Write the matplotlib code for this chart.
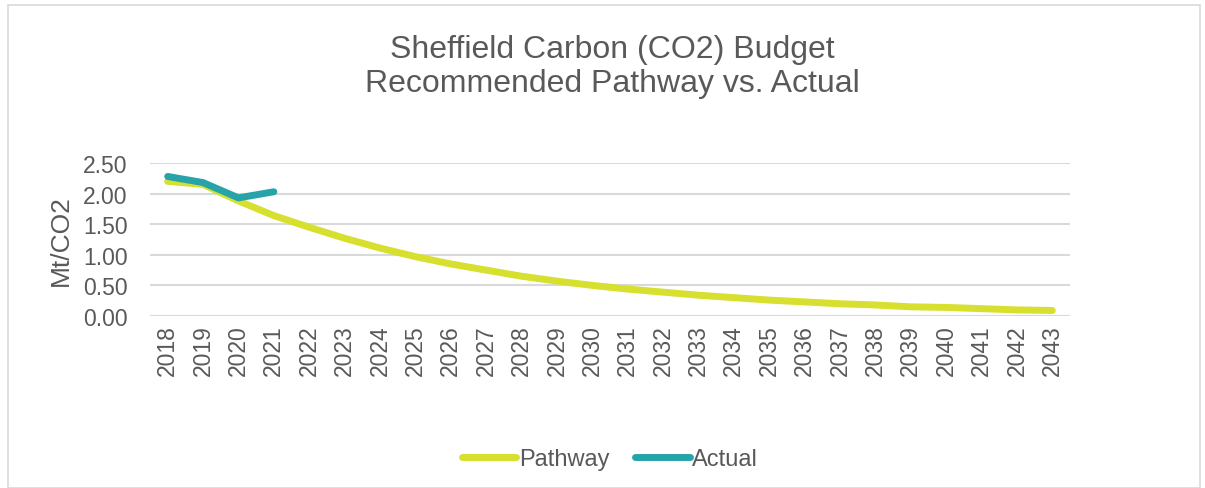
import numpy as np
import matplotlib.pyplot as plt
from matplotlib.patches import Rectangle

years = [str(y) for y in range(2018, 2044)]
pathway = [2.20, 2.15, 1.88, 1.64, 1.45, 1.27, 1.11, 0.97, 0.85, 0.75, 0.65, 0.57, 0.50,
           0.44, 0.39, 0.34, 0.30, 0.26, 0.23, 0.20, 0.18, 0.15, 0.14, 0.12, 0.10, 0.09]
actual = [2.28, 2.18, 1.93, 2.03]

txt = '#595959'
plt.rcParams['font.family'] = ['Liberation Sans', 'DejaVu Sans']

fig = plt.figure(figsize=(12.05, 4.89), dpi=100)
ax = fig.add_axes([150 / 1205, 1 - 317 / 489, 920 / 1205, 153 / 489])

x = np.arange(len(years))
ax.plot(x, pathway, color='#D7DF2F', lw=5, solid_capstyle='round', label='Pathway')
ax.plot(x[:len(actual)], actual, color='#26A4AA', lw=5, solid_capstyle='round', label='Actual')

ax.set_xlim(-0.5, len(years) - 0.5)
ax.set_ylim(0, 2.5)
ax.set_yticks(np.arange(0, 2.51, 0.5))
ax.set_yticklabels([f'{v:.2f}' for v in np.arange(0, 2.51, 0.5)])
ax.set_xticks(x)
ax.set_xticklabels(years, rotation=90)
ax.tick_params(colors=txt, labelsize=16.5, length=0)
ax.tick_params(axis='y', pad=16)
ax.tick_params(axis='x', pad=6)
ax.grid(axis='y', color='#D9D9D9', lw=1.5)
ax.set_axisbelow(True)
for s in ax.spines.values():
    s.set_visible(False)
ax.set_ylabel('Mt/CO2', color=txt, fontsize=19)
ax.yaxis.set_label_coords(-77 / 920, 0.5)

fig.text(612 / 1205, 1 - 67 / 489, 'Sheffield Carbon (CO2) Budget\nRecommended Pathway vs. Actual',
         ha='center', va='center', fontsize=23, color=txt, linespacing=1.2)

leg = fig.legend(loc='center', bbox_to_anchor=(610 / 1205, 1 - 460 / 489), ncol=2,
                 frameon=False, fontsize=17, handlelength=2.3, handletextpad=0.1,
                 columnspacing=1.1)
for t in leg.get_texts():
    t.set_color(txt)

fig.patches.append(Rectangle((8 / 1205, 0), 1192 / 1205, 1 - 6 / 489, transform=fig.transFigure,
                             fill=False, edgecolor='#D9D9D9', lw=1.2))

fig.savefig('out.png', dpi=100)
